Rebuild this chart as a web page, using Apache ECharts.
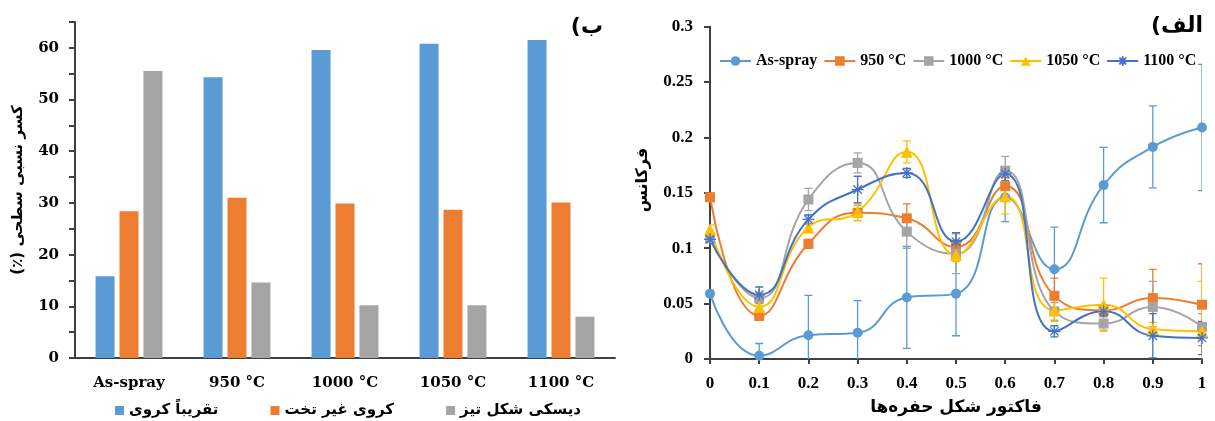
<!DOCTYPE html>
<html>
<head>
<meta charset="utf-8">
<script src="https://cdn.jsdelivr.net/npm/echarts@6/dist/echarts.min.js"></script>
<style>
  html, body { margin: 0; background: #fff; }
  #chart { width: 1215px; height: 421px; }
</style>
</head>
<body>
<div id="chart"></div>
<script>
// panel ب : surface fraction of particle shapes
const barCategories = ['As-spray', '950 °C', '1000 °C', '1050 °C', '1100 °C'];
const barNames = ['تقریباً کروی', 'کروی غیر تخت', 'دیسکی شکل تیز'];
const spherical = [15.8, 54.3, 59.6, 60.8, 61.5];
const nonFlat = [28.4, 31.0, 29.9, 28.7, 30.1];
const sharpDisc = [55.5, 14.6, 10.2, 10.2, 8.0];

// panel الف : frequency vs pore shape factor
const shapeFactor = [0, 0.1, 0.2, 0.3, 0.4, 0.5, 0.6, 0.7, 0.8, 0.9, 1];
const lineNames = ['As-spray', '950 °C', '1000 °C', '1050 °C', '1100 °C'];
const asSpray = [0.059, 0.003, 0.0215, 0.0237, 0.0556, 0.059, 0.146, 0.081, 0.157, 0.1915, 0.209];
const asSprayErr = [0.003, 0.011, 0.036, 0.029, 0.046, 0.038, 0.022, 0.038, 0.034, 0.037, 0.057];
const t950 = [0.146, 0.039, 0.104, 0.132, 0.127, 0.101, 0.156, 0.057, 0.044, 0.055, 0.049];
const t950Err = [0.004, 0.004, 0.004, 0.007, 0.013, 0.006, 0.008, 0.016, 0.005, 0.026, 0.037];
const t1000 = [0.109, 0.055, 0.144, 0.177, 0.115, 0.095, 0.170, 0.043, 0.032, 0.047, 0.029];
const t1000Err = [0.004, 0.005, 0.010, 0.009, 0.015, 0.018, 0.013, 0.008, 0.006, 0.023, 0.012];
const t1050 = [0.117, 0.047, 0.119, 0.133, 0.187, 0.094, 0.147, 0.044, 0.049, 0.027, 0.025];
const t1050Err = [0.004, 0.004, 0.005, 0.008, 0.010, 0.006, 0.016, 0.010, 0.024, 0.006, 0.045];
const t1100 = [0.108, 0.058, 0.126, 0.153, 0.168, 0.106, 0.167, 0.025, 0.043, 0.021, 0.019];
const t1100Err = [0.004, 0.007, 0.004, 0.012, 0.004, 0.008, 0.006, 0.005, 0.004, 0.020, 0.015];

const colors = ['#5B9BD5', '#ED7D31', '#A5A5A5', '#FFC000', '#4472C4'];
const asterisk = 'path://M5,0L5,10M0,5L10,5M1.5,1.5L8.5,8.5M8.5,1.5L1.5,8.5';

// keep persian strings right-to-left inside the canvas
function rtl(s) {
  return '\u202B' + s + '\u202C';
}

const axisLineStyle = { color: '#404040', width: 2 };
const leftFont = { fontFamily: 'DejaVu Serif', fontWeight: 'bold', fontSize: 15, color: '#000' };
const rightFont = { fontFamily: 'Liberation Serif', fontWeight: 'bold', fontSize: 17, color: '#000' };
const faFont = { fontFamily: 'DejaVu Sans', fontWeight: 'bold', color: '#000' };

function fnBar(name, data, color) {
  return {
    type: 'bar',
    name: name,
    data: data,
    xAxisIndex: 0,
    yAxisIndex: 0,
    barWidth: 19,
    barGap: '26%',
    itemStyle: { color: color }
  };
}

function fnLine(name, values, color, symbol, size) {
  return {
    type: 'line',
    name: name,
    data: shapeFactor.map((x, i) => [x, values[i]]),
    xAxisIndex: 1,
    yAxisIndex: 1,
    smooth: 0.5,
    symbol: symbol,
    symbolSize: size,
    lineStyle: { color: color, width: 2 },
    itemStyle: { color: color, borderColor: color, borderWidth: symbol === asterisk ? 1.3 : 0 },
    z: 3
  };
}

function fnError(values, errs, color) {
  return {
    type: 'custom',
    xAxisIndex: 1,
    yAxisIndex: 1,
    clip: true,
    data: shapeFactor.map((x, i) => [x, values[i] - errs[i], values[i] + errs[i]]),
    encode: { x: 0, y: [1, 2] },
    renderItem: function (params, api) {
      const lo = api.coord([api.value(0), api.value(1)]);
      const hi = api.coord([api.value(0), api.value(2)]);
      const w = 4;
      const style = { stroke: color, lineWidth: 1.3 };
      return {
        type: 'group',
        children: [
          { type: 'line', shape: { x1: lo[0], y1: lo[1], x2: hi[0], y2: hi[1] }, style: style },
          { type: 'line', shape: { x1: lo[0] - w, y1: lo[1], x2: lo[0] + w, y2: lo[1] }, style: style },
          { type: 'line', shape: { x1: hi[0] - w, y1: hi[1], x2: hi[0] + w, y2: hi[1] }, style: style }
        ]
      };
    },
    z: 2
  };
}

const chart = echarts.init(document.getElementById('chart'));

const option = {
  animation: false,
  backgroundColor: '#fff',
  grid: [
    { left: 75, top: 22, width: 540, height: 336 },
    { left: 710, top: 26.7, width: 492, height: 338.3 }
  ],
  legend: [
    {
      data: barNames,
      left: 110,
      top: 398,
      icon: 'rect',
      itemWidth: 9,
      itemHeight: 9,
      itemGap: 52,
      formatter: name => rtl(name),
      textStyle: Object.assign({ fontSize: 15 }, faFont)
    },
    {
      data: lineNames,
      left: 714,
      top: 48,
      width: 500,
      itemWidth: 31,
      itemHeight: 12,
      itemGap: 6,
      textStyle: Object.assign({}, rightFont, { fontSize: 16 })
    }
  ],
  xAxis: [
    {
      type: 'category',
      gridIndex: 0,
      data: barCategories,
      axisLine: { lineStyle: axisLineStyle },
      axisTick: { alignWithLabel: true, length: 6, lineStyle: axisLineStyle },
      axisLabel: Object.assign({ margin: 18 }, leftFont),
      splitLine: { show: false }
    },
    {
      type: 'value',
      gridIndex: 1,
      min: 0,
      max: 1,
      interval: 0.1,
      name: rtl('فاکتور شکل حفره‌ها'),
      nameLocation: 'middle',
      nameGap: 40,
      nameTextStyle: Object.assign({ fontSize: 17 }, faFont),
      axisLine: { lineStyle: axisLineStyle },
      axisTick: { length: 5, lineStyle: axisLineStyle },
      axisLabel: Object.assign({ margin: 16 }, rightFont),
      splitLine: { show: false }
    }
  ],
  yAxis: [
    {
      type: 'value',
      gridIndex: 0,
      min: 0,
      max: 65,
      interval: 5,
      name: rtl('کسر نسبی سطحی (٪)'),
      nameLocation: 'middle',
      nameGap: 49,
      nameTextStyle: Object.assign({ fontSize: 15 }, faFont),
      axisLine: { show: true, lineStyle: axisLineStyle },
      axisTick: { show: true, length: 6, lineStyle: axisLineStyle },
      axisLabel: Object.assign({ margin: 16, formatter: v => (v % 10 === 0 ? v : '') }, leftFont),
      splitLine: { show: false }
    },
    {
      type: 'value',
      gridIndex: 1,
      min: 0,
      max: 0.3,
      interval: 0.05,
      axisLine: { show: true, lineStyle: axisLineStyle },
      axisTick: { show: true, length: 6, lineStyle: axisLineStyle },
      axisLabel: Object.assign({ margin: 17 }, rightFont),
      splitLine: { show: false }
    }
  ],
  graphic: [
    {
      type: 'text', x: 603, y: 27,
      style: { text: rtl('ب)'), align: 'right', verticalAlign: 'middle', font: 'bold 22px "DejaVu Sans"', fill: '#000' }
    },
    {
      type: 'text', x: 1203, y: 26,
      style: { text: rtl('الف)'), align: 'right', verticalAlign: 'middle', font: 'bold 22px "DejaVu Sans"', fill: '#000' }
    },
    {
      type: 'text', x: 643, y: 180, rotation: Math.PI / 2,
      style: { text: rtl('فرکانس'), align: 'center', verticalAlign: 'middle', font: 'bold 16px "DejaVu Sans"', fill: '#000' }
    }
  ],
  series: [
    fnBar(barNames[0], spherical, colors[0]),
    fnBar(barNames[1], nonFlat, colors[1]),
    fnBar(barNames[2], sharpDisc, colors[2]),

    fnError(asSpray, asSprayErr, colors[0]),
    fnError(t950, t950Err, colors[1]),
    fnError(t1000, t1000Err, colors[2]),
    fnError(t1050, t1050Err, colors[3]),
    fnError(t1100, t1100Err, colors[4]),

    fnLine(lineNames[0], asSpray, colors[0], 'circle', 10),
    fnLine(lineNames[1], t950, colors[1], 'rect', 10),
    fnLine(lineNames[2], t1000, colors[2], 'rect', 10),
    fnLine(lineNames[3], t1050, colors[3], 'triangle', 12),
    fnLine(lineNames[4], t1100, colors[4], asterisk, 12)
  ]
};

chart.setOption(option);
</script>
</body>
</html>
